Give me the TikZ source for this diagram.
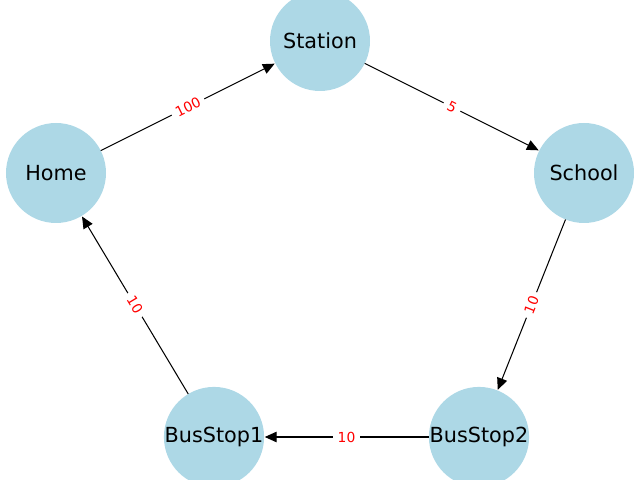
\documentclass[tikz,border=0pt]{standalone}
\usepackage{fontspec}
\setmainfont{DejaVu Sans}
\usetikzlibrary{arrows.meta}
\definecolor{lightblue}{RGB}{173,216,230}

\begin{document}
\begin{tikzpicture}[x=1in,y=1in]
  \clip (0,0) rectangle (6.4,4.8);
  \tikzstyle{VertexStyle}=[circle,fill=lightblue,inner sep=0pt,outer sep=0pt,
                           minimum size=1in,font=\fontsize{15}{18}\selectfont]
  \tikzstyle{EdgeStyle}=[-{Triangle[length=8.5pt,width=7.5pt]},line width=0.75pt,shorten >=0.5pt]
  \tikzstyle{LabelStyle}=[fill=white,text=red,sloped,inner xsep=3.5pt,inner ysep=1.5pt,
                          font=\fontsize{10}{12}\selectfont]
  \node[VertexStyle] (station)  at (3.20,4.39) {Station};
  \node[VertexStyle] (home)     at (0.56,3.07) {Home};
  \node[VertexStyle] (school)   at (5.84,3.07) {School};
  \node[VertexStyle] (busstop1) at (2.14,0.43) {BusStop1};
  \node[VertexStyle] (busstop2) at (4.79,0.43) {BusStop2};
  %\tikzstyle{EdgeStyle}=[bend left]
  \draw[EdgeStyle] (home) -- node[LabelStyle] {100} (station);
  \draw[EdgeStyle] (station) -- node[LabelStyle] {5} (school);
  \draw[EdgeStyle] (school) -- node[LabelStyle] {10} (busstop2);
  \draw[EdgeStyle] (busstop2) -- node[LabelStyle] {10} (busstop1);
  \draw[EdgeStyle] (busstop1) -- node[LabelStyle] {10} (home);
\end{tikzpicture}
\end{document}
